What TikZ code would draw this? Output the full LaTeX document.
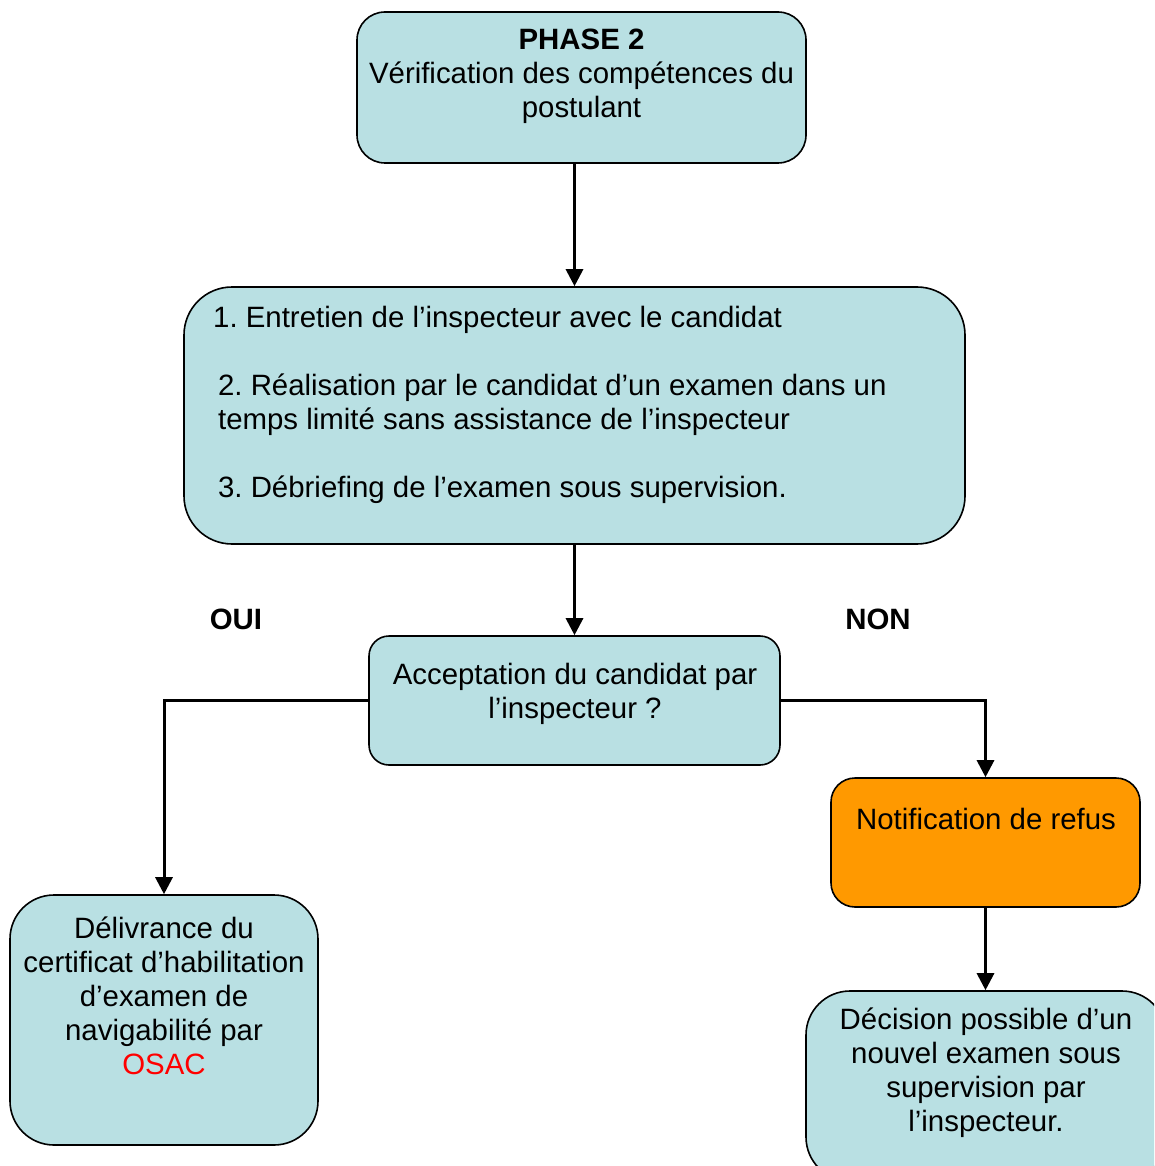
\documentclass[tikz,border=0pt]{standalone}
\usepackage{fontspec}
\setmainfont{Liberation Sans}
\usetikzlibrary{arrows.meta}
\definecolor{boxblue}{HTML}{B9E0E3}
\definecolor{boxorange}{HTML}{FF9900}
\definecolor{osacred}{HTML}{FF0000}
\frenchspacing
\begin{document}
\begin{tikzpicture}[x=1pt,y=-1pt,
  box/.style={draw=black,line width=1.6pt,fill=boxblue,inner sep=0pt},
  txt/.style={inner sep=0pt,font=\fontsize{29.4}{34}\selectfont\frenchspacing,text=black},
  arr/.style={line width=3pt,-{Triangle[width=17pt,length=17pt]}},
  lab/.style={inner sep=0pt,font=\fontsize{29.4}{34}\selectfont\bfseries}]
\clip (0,0) rectangle (1154,1166);
\useasboundingbox (0,0) rectangle (1154,1166);
\fill[white] (0,0) rectangle (1154,1166);
% boxes
\node[box,rounded corners=28pt,minimum width=449pt,minimum height=151pt] (p2) at (581.5,87.5) {};
\node[box,rounded corners=48pt,minimum width=781pt,minimum height=257pt] (etapes) at (574.5,415.5) {};
\node[box,rounded corners=20pt,minimum width=411pt,minimum height=129pt] (accept) at (574.5,700.5) {};
\node[box,fill=boxorange,rounded corners=24pt,minimum width=309pt,minimum height=129pt] (refus) at (985.5,842.5) {};
\node[box,rounded corners=44pt,minimum width=308pt,minimum height=250pt] (deliv) at (164,1020) {};
\node[box,rounded corners=44pt,minimum width=360pt,minimum height=190pt] (decis) at (986,1086) {};
% texts
\node[txt,align=center] (t1) at (581.5,76) {\textbf{PHASE 2}\\Vérification des compétences du\\postulant};
\node[txt,align=left,anchor=west] (t2) at (213,405) {1. Entretien de l’inspecteur avec le candidat\\[34pt]
\,2. Réalisation par le candidat d’un examen dans un\\
\,temps limité sans assistance de l’inspecteur\\[34pt]
\,3. Débriefing de l’examen sous supervision.};
\node[txt,align=center] (t3) at (575,694) {Acceptation du candidat par\\l’inspecteur ?};
\node[txt] (t4) at (986,819) {Notification de refus};
\node[txt,align=center] (t5) at (164,996) {Délivrance du\\certificat d’habilitation\\d’examen de\\navigabilité par\\\textcolor{osacred}{OSAC}};
\node[txt,align=center] (t6) at (986,1073) {Décision possible d’un\\nouvel examen sous\\supervision par\\l’inspecteur.};
\node[lab] (oui) at (236,619) {OUI};
\node[lab] (non) at (878,619) {NON};
% connectors
\draw[arr] (etapes.north |- p2.south) -- (etapes.north);
\draw[arr] (etapes.south) -- (accept.north);
\draw[arr] (accept.west) -| (deliv.north);
\draw[arr] (accept.east) -| (refus.north);
\draw[arr] (refus.south) -- (refus.south |- decis.north);
\end{tikzpicture}
\end{document}
